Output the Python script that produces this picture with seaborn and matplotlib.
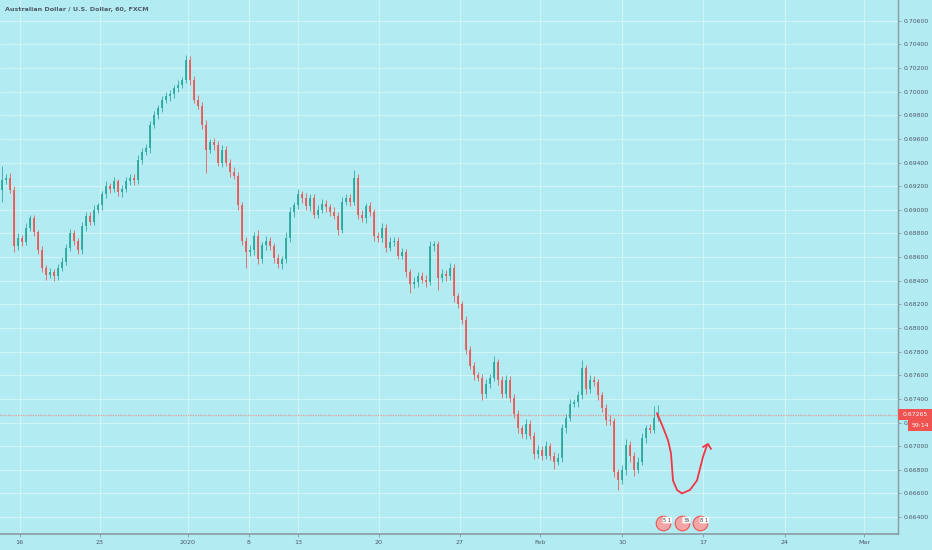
import numpy as np
import pandas as pd
import matplotlib
matplotlib.use("Agg")
import matplotlib.pyplot as plt
from matplotlib.patches import Rectangle
import seaborn as sns

# ---------------- data ----------------
title = "Australian Dollar / U.S. Dollar, 60, FXCM"

first_open = 0.6917
close = [
    0.6925, 0.6927, 0.6917, 0.6869, 0.6876, 0.6873, 0.6885, 0.6893, 0.6881, 0.6866,
    0.6851, 0.6845, 0.6847, 0.6844, 0.6851, 0.6856, 0.6868, 0.6880, 0.6874, 0.6866,
    0.6886, 0.6895, 0.6890, 0.6900, 0.6904, 0.6913, 0.6920, 0.6918, 0.6924, 0.6915,
    0.6918, 0.6924, 0.6927, 0.6925, 0.6942, 0.6949, 0.6952, 0.6972, 0.6980, 0.6986,
    0.6993, 0.6996, 0.6998, 0.7003, 0.7006, 0.7010, 0.7027, 0.7010, 0.6993, 0.6988,
    0.6972, 0.6951, 0.6957, 0.6955, 0.6940, 0.6951, 0.6940, 0.6932, 0.6929, 0.6904,
    0.6874, 0.6864, 0.6866, 0.6878, 0.6858, 0.6870, 0.6874, 0.6869, 0.6859, 0.6854,
    0.6858, 0.6876, 0.6898, 0.6904, 0.6913, 0.6910, 0.6903, 0.6910, 0.6896, 0.6900,
    0.6905, 0.6902, 0.6898, 0.6895, 0.6883, 0.6907, 0.6910, 0.6907, 0.6927, 0.6896,
    0.6893, 0.6903, 0.6898, 0.6878, 0.6876, 0.6885, 0.6868, 0.6873, 0.6874, 0.6861,
    0.6864, 0.6847, 0.6837, 0.6839, 0.6844, 0.6841, 0.6839, 0.6869, 0.6871, 0.6842,
    0.6846, 0.6844, 0.6851, 0.6827, 0.6820, 0.6807, 0.6781, 0.6768, 0.6760, 0.6758,
    0.6744, 0.6753, 0.6758, 0.6771, 0.6756, 0.6744, 0.6756, 0.6741, 0.6727, 0.6715,
    0.6710, 0.6719, 0.6709, 0.6693, 0.6697, 0.6692, 0.6700, 0.6692, 0.6687, 0.6690,
    0.6715, 0.6724, 0.6736, 0.6737, 0.6743, 0.6766, 0.6748, 0.6756, 0.6754, 0.6743,
    0.6732, 0.6722, 0.6721, 0.6678, 0.6671, 0.6680, 0.6701, 0.6692, 0.6680, 0.6687,
    0.6707, 0.6715, 0.6714, 0.6724, 0.67265,
]
hi_wick_pips = [
    12, 3, 4, 3, 4, 3, 4, 3, 3, 2,
    3, 2, 4, 3, 3, 4, 3, 4, 3, 2,
    4, 3, 3, 4, 2, 3, 4, 3, 4, 2,
    3, 4, 3, 3, 4, 3, 4, 3, 4, 3,
    3, 4, 3, 3, 4, 2, 4, 3, 3, 4,
    3, 4, 3, 4, 3, 4, 3, 3, 4, 3,
    3, 3, 4, 3, 5, 3, 4, 3, 3, 4,
    3, 5, 4, 3, 5, 3, 4, 3, 3, 4,
    4, 3, 3, 4, 3, 4, 3, 3, 7, 3,
    4, 3, 4, 3, 3, 4, 3, 4, 3, 3,
    4, 3, 3, 4, 3, 3, 4, 5, 3, 3,
    4, 3, 4, 3, 3, 3, 3, 4, 3, 3,
    3, 4, 3, 5, 3, 3, 4, 3, 3, 4,
    3, 4, 3, 3, 4, 3, 4, 3, 3, 4,
    4, 3, 4, 3, 4, 7, 3, 4, 3, 3,
    3, 4, 4, 3, 3, 4, 5, 3, 3, 4,
    4, 3, 4, 10, 8,
]
lo_wick_pips = [
    10, 3, 3, 5, 3, 4, 3, 3, 3, 3,
    4, 4, 3, 4, 3, 3, 3, 3, 4, 3,
    3, 4, 3, 3, 3, 4, 3, 4, 3, 3,
    4, 3, 3, 4, 3, 3, 3, 4, 3, 3,
    3, 3, 4, 3, 3, 3, 3, 4, 3, 3,
    4, 20, 3, 4, 3, 4, 3, 4, 3, 4,
    4, 13, 3, 4, 4, 3, 4, 3, 4, 3,
    4, 3, 3, 4, 3, 4, 3, 4, 3, 3,
    3, 4, 3, 3, 4, 3, 3, 4, 3, 4,
    3, 4, 3, 4, 3, 3, 4, 3, 4, 3,
    3, 4, 7, 3, 4, 3, 4, 3, 4, 10,
    3, 4, 3, 5, 3, 4, 3, 3, 4, 3,
    5, 3, 4, 3, 4, 3, 3, 4, 3, 4,
    3, 4, 3, 4, 3, 4, 3, 4, 6, 3,
    3, 4, 3, 3, 4, 3, 4, 3, 3, 4,
    3, 4, 3, 4, 8, 3, 4, 5, 5, 3,
    3, 4, 3, 3, 3,
]

price_ticks = [0.664, 0.666, 0.668, 0.670, 0.672, 0.674, 0.676, 0.678, 0.680,
               0.682, 0.684, 0.686, 0.688, 0.690, 0.692, 0.694, 0.696, 0.698,
               0.700, 0.702, 0.704, 0.706]
date_tick_pos = [4.9, 25, 47, 62.25, 74.5, 94.75, 115, 135, 155.5, 175.75, 196.25, 216]
date_tick_labels = ["16", "23", "2020", "8", "13", "20", "27", "Feb", "10", "17", "24", "Mar"]

last_price = 0.67265
countdown = "59:14"

# hand-drawn projection arrow
arrow_x = [164.25, 165.75, 167.0, 167.75, 168.25, 169.25, 170.5, 172.5, 174.25, 175.75, 176.75]
arrow_y = [0.6728, 0.6716, 0.6705, 0.6694, 0.6671, 0.6663, 0.6660, 0.6663, 0.6671, 0.6691, 0.6701]
head_x = [175.75, 177.0, 177.75]
head_y = [0.66993, 0.67019, 0.66976]

# economic event markers at the bottom
event_x = [165.75, 170.5, 175.0]
event_y = 0.6635
event_labels = ["5 1", "36", "8 1"]

# ---------------- styling ----------------
BG = "#b2ebf2"
GRID = "#cff3f7"
UP = "#26a69a"
DOWN = "#ef5350"
TXT = "#4f5b66"
AXIS = "#8a9ba3"

sns.set_theme(style="white")
plt.rcParams["font.family"] = ["DejaVu Sans"]

n = len(close)
df = pd.DataFrame({"x": np.arange(n) + 0.5, "close": close})
df["open"] = [first_open] + close[:-1]
df["high"] = df[["open", "close"]].max(axis=1) + np.array(hi_wick_pips) * 0.0001
df["low"] = df[["open", "close"]].min(axis=1) - np.array(lo_wick_pips) * 0.0001
df["up"] = df["close"] >= df["open"]
df["color"] = np.where(df["up"], UP, DOWN)

W, H = 932, 550
fig = plt.figure(figsize=(W / 100, H / 100), dpi=100, facecolor=BG)
ax = fig.add_axes([0, 16 / H, 898 / W, 534 / H], facecolor=BG)

ax.set_xlim(0, 224.5)
ax.set_ylim(0.66257, 0.70775)

# grid
ax.set_axisbelow(True)
ax.set_yticks(price_ticks)
ax.set_xticks(date_tick_pos)
ax.grid(True, color=GRID, lw=0.9)

# candles
ax.vlines(df["x"], df["low"], df["high"], colors=df["color"], lw=0.7, alpha=0.8, zorder=2)
body_h = (df["close"] - df["open"]).abs().clip(lower=0.00004)
ax.bar(df["x"], body_h, bottom=df[["open", "close"]].min(axis=1), width=0.5,
       color=df["color"], alpha=0.85, linewidth=0, zorder=3)

# last-price line
ax.axhline(last_price, color="#e59a9a", lw=0.9, ls=(0, (1, 1)), zorder=1.5)

# projection arrow
arrow_df = pd.DataFrame({"x": arrow_x, "y": arrow_y})
sns.lineplot(data=arrow_df, x="x", y="y", sort=False, ax=ax, color="#f23645", lw=1.3, zorder=5)
head_df = pd.DataFrame({"x": head_x, "y": head_y})
sns.lineplot(data=head_df, x="x", y="y", sort=False, ax=ax, color="#f23645", lw=1.3, zorder=5)
ax.set_xlabel("")
ax.set_ylabel("")

# event markers
ax.scatter(event_x, [event_y] * len(event_x), s=110, facecolor="#f3a6a6", edgecolor=DOWN,
           lw=0.8, zorder=6, clip_on=False)
for ex, lab in zip(event_x, event_labels):
    ax.text(ex + 1.1, event_y + 0.00025, lab, fontsize=3.6, color="#333", ha="center", va="center",
            zorder=7, bbox=dict(boxstyle="round,pad=0.15", fc="white", ec="none"))

# axes / ticks
for s in ["top", "left"]:
    ax.spines[s].set_visible(False)
ax.spines["right"].set_color(AXIS)
ax.spines["bottom"].set_color(AXIS)
ax.spines["right"].set_linewidth(1.0)
ax.spines["bottom"].set_linewidth(1.2)
ax.yaxis.tick_right()
ax.set_yticklabels([f"{v:.5f}" for v in price_ticks])
ax.set_xticklabels(date_tick_labels)
ax.tick_params(axis="y", which="both", right=True, length=2, width=0.6, color=AXIS,
               labelsize=4.4, labelcolor=TXT, pad=2)
ax.tick_params(axis="x", which="both", bottom=True, length=2, width=0.6, color=AXIS,
               labelsize=4.6, labelcolor=TXT, pad=2.5)

# price + countdown labels (figure pixel boxes)
fig.add_artist(Rectangle((898 / W, (H - 420) / H), 34 / W, 11 / H, transform=fig.transFigure,
                         fc=DOWN, ec="none", zorder=10))
fig.add_artist(Rectangle((908 / W, (H - 431) / H), 24 / W, 11 / H, transform=fig.transFigure,
                         fc=DOWN, ec="none", zorder=10))
fig.text(903 / W, (H - 414.5) / H, f"{last_price:.5f}", fontsize=4.4, color="white",
         va="center", ha="left", zorder=11)
fig.text(920 / W, (H - 425.5) / H, countdown, fontsize=4.4, color="white",
         va="center", ha="center", zorder=11)

# title
fig.text(5 / W, (H - 10) / H, title, fontsize=4.6, color=TXT, weight="bold",
         va="center", ha="left")

fig.savefig("out.png", dpi=100, facecolor=BG)
